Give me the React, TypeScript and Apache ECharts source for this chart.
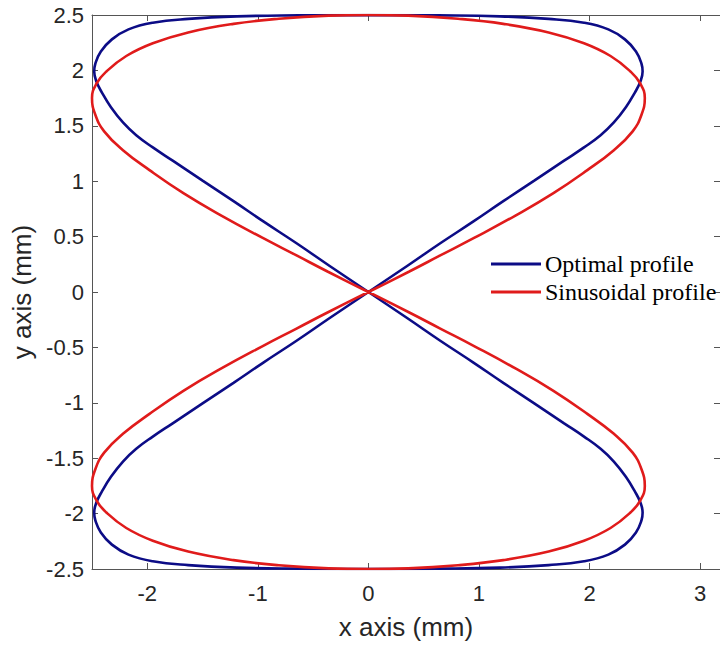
import React, { useEffect, useRef } from "react";
import * as echarts from "echarts";

// Tick labels / ranges
const xTickMin = -2.5;
const xTickMax = 3.18;
const yTickMin = -2.5;
const yTickMax = 2.5;
const yTickStep = 0.5;

const seriesNames = ["Optimal profile", "Sinusoidal profile"];

// Optimal profile (x mm, y mm), traced along the figure-eight
const optimalProfile: [number, number][] = [
  [0, 2.5], [0.63, 2.497], [1.19, 2.488], [1.63, 2.465], [1.95, 2.43], [2.17, 2.37], [2.32, 2.28], [2.42, 2.17], [2.47, 2.06], [2.48, 1.99], [2.46, 1.9], [2.41, 1.8], [2.33, 1.67], [2.22, 1.53], [2.1, 1.415], [1.95, 1.305], [1.77, 1.185], [1.5, 1.005], [1.22, 0.82], [0.95, 0.637], [0.65, 0.44], [0.35, 0.235], [0, 0],
  [-0.35, -0.235], [-0.65, -0.44], [-0.95, -0.637], [-1.22, -0.82], [-1.5, -1.005], [-1.77, -1.185], [-1.95, -1.305], [-2.1, -1.415], [-2.22, -1.53], [-2.33, -1.67], [-2.41, -1.8], [-2.46, -1.9], [-2.48, -1.99], [-2.47, -2.06], [-2.42, -2.17], [-2.32, -2.28], [-2.17, -2.37], [-1.95, -2.43], [-1.63, -2.465], [-1.19, -2.488], [-0.63, -2.497], [0, -2.5],
  [0.63, -2.497], [1.19, -2.488], [1.63, -2.465], [1.95, -2.43], [2.17, -2.37], [2.32, -2.28], [2.42, -2.17], [2.47, -2.06], [2.48, -1.99], [2.46, -1.9], [2.41, -1.8], [2.33, -1.67], [2.22, -1.53], [2.1, -1.415], [1.95, -1.305], [1.77, -1.185], [1.5, -1.005], [1.22, -0.82], [0.95, -0.637], [0.65, -0.44], [0.35, -0.235], [0, 0],
  [-0.35, 0.235], [-0.65, 0.44], [-0.95, 0.637], [-1.22, 0.82], [-1.5, 1.005], [-1.77, 1.185], [-1.95, 1.305], [-2.1, 1.415], [-2.22, 1.53], [-2.33, 1.67], [-2.41, 1.8], [-2.46, 1.9], [-2.48, 1.99], [-2.47, 2.06], [-2.42, 2.17], [-2.32, 2.28], [-2.17, 2.37], [-1.95, 2.43], [-1.63, 2.465], [-1.19, 2.488], [-0.63, 2.497], [0, 2.5],
];

// Sinusoidal profile (x mm, y mm)
const sinusoidalProfile: [number, number][] = [
  [0, 2.5], [0.36, 2.494], [0.81, 2.466], [1.22, 2.42], [1.63, 2.343], [1.95, 2.245], [2.19, 2.13], [2.37, 1.99], [2.46, 1.88], [2.5, 1.75], [2.47, 1.6], [2.39, 1.45], [2.22, 1.28], [1.98, 1.1], [1.67, 0.89], [1.33, 0.69], [0.96, 0.49], [0.65, 0.33], [0.37, 0.185], [0, 0],
  [-0.37, -0.185], [-0.65, -0.33], [-0.96, -0.49], [-1.33, -0.69], [-1.67, -0.89], [-1.98, -1.1], [-2.22, -1.28], [-2.39, -1.45], [-2.47, -1.6], [-2.5, -1.75], [-2.46, -1.88], [-2.37, -1.99], [-2.19, -2.13], [-1.95, -2.245], [-1.63, -2.343], [-1.22, -2.42], [-0.81, -2.466], [-0.36, -2.494], [0, -2.5],
  [0.36, -2.494], [0.81, -2.466], [1.22, -2.42], [1.63, -2.343], [1.95, -2.245], [2.19, -2.13], [2.37, -1.99], [2.46, -1.88], [2.5, -1.75], [2.47, -1.6], [2.39, -1.45], [2.22, -1.28], [1.98, -1.1], [1.67, -0.89], [1.33, -0.69], [0.96, -0.49], [0.65, -0.33], [0.37, -0.185], [0, 0],
  [-0.37, 0.185], [-0.65, 0.33], [-0.96, 0.49], [-1.33, 0.69], [-1.67, 0.89], [-1.98, 1.1], [-2.22, 1.28], [-2.39, 1.45], [-2.47, 1.6], [-2.5, 1.75], [-2.46, 1.88], [-2.37, 1.99], [-2.19, 2.13], [-1.95, 2.245], [-1.63, 2.343], [-1.22, 2.42], [-0.81, 2.466], [-0.36, 2.494], [0, 2.5],
];

const AXIS_COLOR = "#555555";
const LABEL_COLOR = "#262626";
const SANS = "'Liberation Sans', Arial, sans-serif";
const SERIF = "'Liberation Serif', 'Times New Roman', serif";

export default function App() {
  const ref = useRef<HTMLDivElement>(null);
  useEffect(() => {
    if (!ref.current) return;
    const chart = echarts.init(ref.current, undefined, { renderer: "svg" });
    const axisLine = { show: true, onZero: false, lineStyle: { color: AXIS_COLOR, width: 1 } };
    const axisTick = { show: true, inside: true, length: 6, lineStyle: { color: AXIS_COLOR, width: 1 } };
    chart.setOption({
      animation: false,
      backgroundColor: "#ffffff",
      grid: { left: 92, top: 15, right: -1, bottom: 77, containLabel: false },
      legend: {
        data: seriesNames,
        orient: "vertical",
        left: 491,
        top: 252,
        itemWidth: 50,
        itemHeight: 3,
        itemGap: 4,
        icon: "rect",
        padding: 0,
        textStyle: { fontFamily: SERIF, fontSize: 24, color: "#000000", padding: [0, 0, 0, -1] },
      },
      xAxis: [
        {
          type: "value",
          min: xTickMin,
          max: xTickMax,
          minInterval: 1,
          maxInterval: 1,
          position: "bottom",
          axisLine,
          axisTick,
          splitLine: { show: false },
          axisLabel: {
            show: true,
            showMinLabel: false,
            showMaxLabel: false,
            margin: 13,
            fontFamily: SANS,
            fontSize: 22,
            color: LABEL_COLOR,
          },
          name: "x axis (mm)",
          nameLocation: "middle",
          nameGap: 45,
          nameTextStyle: { fontFamily: SANS, fontSize: 26, color: LABEL_COLOR },
        },
        {
          type: "value",
          min: xTickMin,
          max: xTickMax,
          minInterval: 1,
          maxInterval: 1,
          position: "top",
          axisLine,
          axisTick,
          splitLine: { show: false },
          axisLabel: { show: false },
        },
      ],
      yAxis: [
        {
          type: "value",
          min: yTickMin,
          max: yTickMax,
          interval: yTickStep,
          position: "left",
          axisLine,
          axisTick,
          splitLine: { show: false },
          axisLabel: { margin: 8, fontFamily: SANS, fontSize: 22, color: LABEL_COLOR },
          name: "y axis (mm)",
          nameLocation: "middle",
          nameRotate: 90,
          nameGap: 53,
          nameTextStyle: { fontFamily: SANS, fontSize: 26, color: LABEL_COLOR },
        },
        {
          type: "value",
          min: yTickMin,
          max: yTickMax,
          interval: yTickStep,
          position: "right",
          axisLine,
          axisTick,
          splitLine: { show: false },
          axisLabel: { show: false },
        },
      ],
      series: [
        {
          name: seriesNames[0],
          type: "line",
          xAxisIndex: 0,
          yAxisIndex: 0,
          data: optimalProfile,
          showSymbol: false,
          smooth: 0.45,
          lineStyle: { color: "#0c0c86", width: 2.6 },
          itemStyle: { color: "#0c0c86" },
        },
        {
          name: seriesNames[1],
          type: "line",
          xAxisIndex: 0,
          yAxisIndex: 0,
          data: sinusoidalProfile,
          showSymbol: false,
          smooth: 0.45,
          lineStyle: { color: "#e01b1b", width: 2.6 },
          itemStyle: { color: "#e01b1b" },
        },
      ],
    });
    return () => chart.dispose();
  }, []);
  return (
    <div
      ref={ref}
      style={{ position: "absolute", left: 0, top: 0, width: 720, height: 646, background: "#fff" }}
    />
  );
}
